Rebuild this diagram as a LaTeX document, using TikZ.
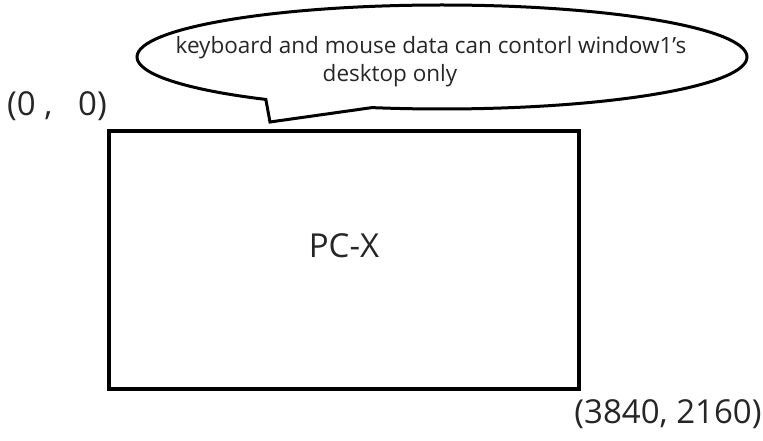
\documentclass[tikz,border=0pt]{standalone}
\usepackage{fontspec}
\setmainfont{Open Sans}
\usetikzlibrary{positioning, shapes.callouts}

\begin{document}
\begin{tikzpicture} [%
    x = 1pt,
    y = 1pt,
    every node/.style = {%
      text = black!85 },
    screen/.style = {%
      draw,
      line width = 4pt,
      minimum width = 470pt,
      minimum height = 258pt },
    bubble/.style = {%
      ellipse callout,
      draw,
      line width = 3pt,
      callout pointer arc = 22,
      minimum width = 610pt,
      minimum height = 104pt },
    corner/.style = {%
      font = \fontsize{33}{36}\selectfont }
  ]
  \useasboundingbox (0,0) rectangle (763,-441);

  \node[screen] (PC) at (344,-260) {};
  \node[font=\fontsize{33}{36}\selectfont] (name) at (344,-246) {PC-X};

  \coordinate (tip) at (270,-122);
  \node[bubble, callout absolute pointer={(tip)}] (B) at (442,-57) {};
  \node[align=center, font=\fontsize{22.5}{28}\selectfont] (msg) at (431,-62)
    {keyboard and mouse data can contorl window1's\\desktop only\hspace*{82pt}};

  \node[corner] (top) at (57,-106) {(0\ ,\ \ \ 0)};
  \node[corner] (bottom) at (668,-414) {(3840, 2160)};
  
\end{tikzpicture}
\end{document}
